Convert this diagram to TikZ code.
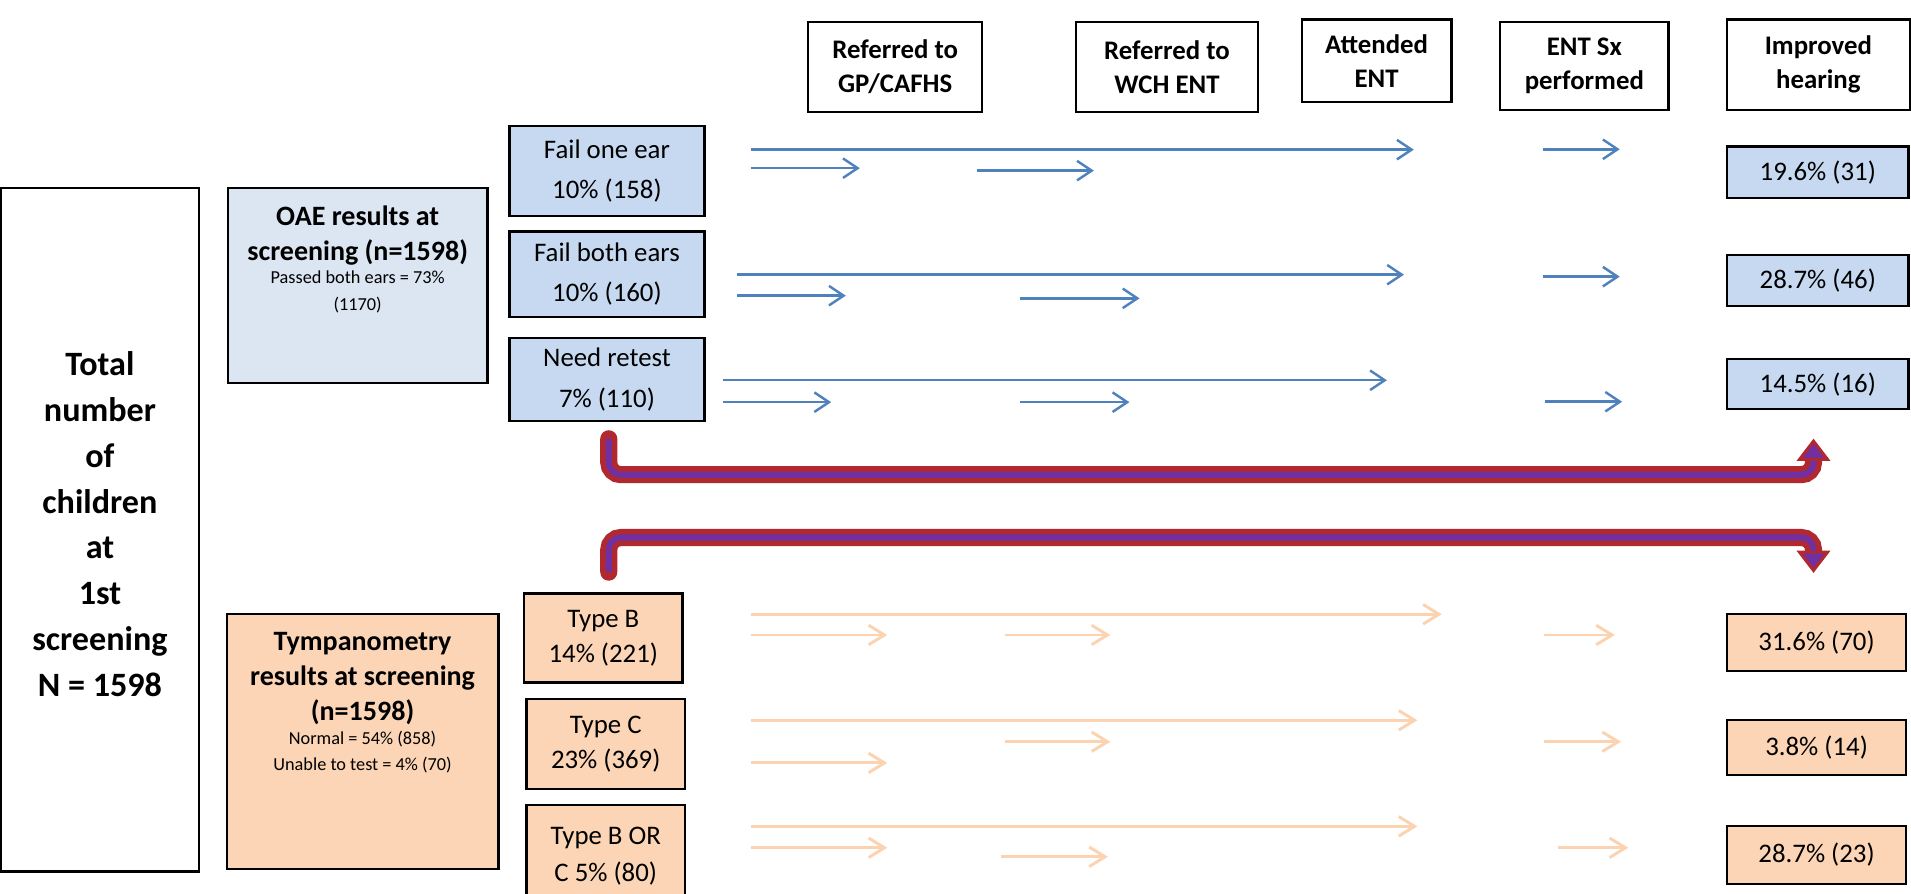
\documentclass[tikz,border=0pt]{standalone}
\usepackage{fontspec}
\setmainfont{Carlito}
\usetikzlibrary{arrows.meta}
\definecolor{bluefill}{HTML}{C6D9F1}
\definecolor{lightblue}{HTML}{DCE6F2}
\definecolor{peach}{HTML}{FBD5B5}
\definecolor{arrowblue}{HTML}{4F81BD}
\definecolor{arrowpeach}{HTML}{FBD3B0}
\definecolor{bandred}{HTML}{B2282F}
\definecolor{bandpurple}{HTML}{7030A0}
\begin{document}
\begin{tikzpicture}[x=1pt,y=-1pt,
  box/.style={draw=black, line width=1.8pt, inner sep=0pt, rectangle, align=center},
  hdr/.style={box, fill=white, font=\bfseries\fontsize{22pt}{28pt}\selectfont},
  bluebox/.style={box, fill=bluefill, font=\fontsize{22pt}{33pt}\selectfont},
  peachbox/.style={box, fill=peach, font=\fontsize{22pt}{29pt}\selectfont},
  boldline/.style={anchor=base, inner sep=0pt, font=\bfseries\fontsize{23pt}{28pt}\selectfont},
  smallline/.style={anchor=base, inner sep=0pt, font=\fontsize{15pt}{20pt}\selectfont},
  barrow/.style={draw=arrowblue, line width=2pt, -{Straight Barb[length=12pt,width=16pt,line width=2pt]}},
  parrow/.style={draw=arrowpeach, line width=2.4pt, -{Straight Barb[length=13pt,width=16pt,line width=2.4pt]}},
  bandouter/.style={draw=bandred, line width=14pt, rounded corners=10pt},
  bandinner/.style={draw=bandpurple, line width=5pt, rounded corners=10pt},
  bandhead/.style={draw=bandred, fill=bandpurple, line width=2.5pt, line join=miter}
]
\useasboundingbox (0,0) rectangle (1568,733);
\fill[white] (0,0) rectangle (1568,733);

% left total box
\node[box, fill=white, minimum width=162pt, minimum height=561pt] (total) at (82,434.5) {};
\node[inner sep=0pt, align=center, font=\bfseries\fontsize{28pt}{37.6pt}\selectfont] (totaltxt) at (82,430)
  {Total\\number\\of\\children\\at\\1st\\screening\\N = 1598};

% OAE box
\node[box, fill=lightblue, minimum width=213pt, minimum height=160pt] (oae) at (293.5,234) {};
\node[boldline] (oaeA) at (293.5,185) {OAE results at};
\node[boldline] (oaeB) at (293.5,214) {screening (n=1598)};
\node[smallline] (oaeC) at (293.5,233) {Passed both ears = 73\%};
\node[smallline] (oaeD) at (293.5,255) {(1170)};

% OAE sub boxes
\node[bluebox, minimum width=160pt, minimum height=74pt] (fail1) at (498,140.2) {Fail one ear\\10\% (158)};
\node[bluebox, minimum width=160pt, minimum height=70pt] (fail2) at (498,225) {Fail both ears\\10\% (160)};
\node[bluebox, minimum width=160pt, minimum height=68pt] (retest) at (498,311.5) {Need retest\\7\% (110)};

% Tympanometry box
\node[box, fill=peach, minimum width=223pt, minimum height=209pt] (tymp) at (297.5,608.5) {};
\node[boldline] (tympA) at (297.5,534) {Tympanometry};
\node[boldline] (tympB) at (297.5,562.5) {results at screening};
\node[boldline] (tympC) at (297.5,591.5) {(n=1598)};
\node[smallline] (tympD) at (297.5,611) {Normal = 54\% (858)};
\node[smallline] (tympE) at (297.5,632.5) {Unable to test = 4\% (70)};

% Tympanometry sub boxes
\node[peachbox, minimum width=130pt, minimum height=73pt] (typeB) at (495,523.5) {Type B\\14\% (221)};
\node[peachbox, minimum width=130pt, minimum height=74pt] (typeC) at (497,610.6) {Type C\\23\% (369)};
\node[peachbox, minimum width=130pt, minimum height=84pt, font=\fontsize{22pt}{31pt}\selectfont] (typeBC) at (497,702.5) {Type B OR\\C 5\% (80)};

% headers
\node[hdr, minimum width=143pt, minimum height=74pt] (h1) at (734.5,55) {Referred to\\GP/CAFHS};
\node[hdr, minimum width=149pt, minimum height=74pt] (h2) at (957.5,55) {Referred to\\WCH ENT};
\node[hdr, minimum width=123pt, minimum height=68pt] (h3) at (1129.5,50) {Attended\\ENT};
\node[hdr, minimum width=138pt, minimum height=72pt] (h4) at (1300,54) {ENT Sx\\performed};
\node[hdr, minimum width=150pt, minimum height=74pt] (h5) at (1492,53) {Improved\\hearing};

% result boxes
\node[bluebox, minimum width=149pt, minimum height=42pt] (r1) at (1491.5,141.2) {19.6\% (31)};
\node[bluebox, minimum width=149pt, minimum height=42pt] (r2) at (1491.5,230) {28.7\% (46)};
\node[bluebox, minimum width=149pt, minimum height=41pt] (r3) at (1491.5,315.3) {14.5\% (16)};
\node[peachbox, minimum width=147pt, minimum height=47pt] (r4) at (1490.5,527) {31.6\% (70)};
\node[peachbox, minimum width=147pt, minimum height=45pt] (r5) at (1490.5,613.5) {3.8\% (14)};
\node[peachbox, minimum width=147pt, minimum height=47pt] (r6) at (1490.5,701.5) {28.7\% (23)};

% blue arrows
\foreach \xa/\xb/\yy in {616/1160/122.8, 616/705.5/138, 802/897.5/140, 1266/1329/122.5,
                          605/1152/225.4, 605/694/242.6, 837/935/244.8, 1266/1329/227,
                          593/1138/312, 593/682/330, 837/926.7/330, 1268/1331/329.6}
  \draw[barrow] (\xa,\yy) -- (\xb,\yy);

% peach arrows
\foreach \xa/\xb/\yy in {616/1183/504, 616/728/521, 825/911/521, 1267/1325/521,
                          616/1163/591, 616/728/626, 825/911/608.6, 1267/1330/608.6,
                          616/1163/678, 616/728/695.6, 821/909/703, 1278/1336/695.6}
  \draw[parrow] (\xa,\yy) -- (\xb,\yy);

% thick bent arrows
\coordinate (uS) at (499.5,360);
\coordinate (uA) at (499.5,389.5);
\coordinate (uB) at (1488,389.5);
\coordinate (uE) at (1488,376);
\coordinate (uT) at (1488,362);
\draw[bandouter, line cap=round] (uS) -- (uA) -- (uB) -- (uE);
\draw[bandhead] (uT) -- (1476.5,377) -- (1499.5,377) -- cycle;
\draw[bandinner] (uS) -- (uA) -- (uB) -- ([yshift=-2pt]uE);

\coordinate (lS) at (499.5,469.5);
\coordinate (lA) at (499.5,441);
\coordinate (lB) at (1488,441);
\coordinate (lE) at (1488,454);
\coordinate (lT) at (1488,468);
\draw[bandouter, line cap=round] (lS) -- (lA) -- (lB) -- (lE);
\draw[bandhead] (lT) -- (1476.5,453) -- (1499.5,453) -- cycle;
\draw[bandinner] (lS) -- (lA) -- (lB) -- ([yshift=2pt]lE);
\end{tikzpicture}
\end{document}
